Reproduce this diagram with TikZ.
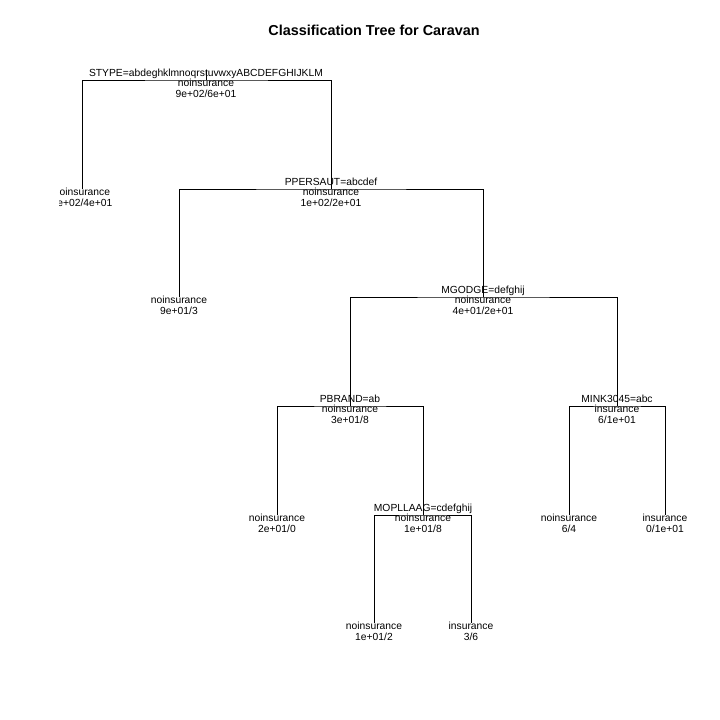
\documentclass[tikz,border=0pt]{standalone}
\usepackage{fontspec}
\setmainfont{Liberation Sans}
\usetikzlibrary{positioning}
\begin{document}
\begin{tikzpicture}[x=1pt,y=-1pt,line width=0.75pt,
    splitlab/.style={anchor=base,inner sep=0pt,yshift=3.3pt,font=\fontsize{10.3}{11}\selectfont},
    yvallab/.style={anchor=base,inner sep=0pt,yshift=-17.5pt,align=center,font=\fontsize{10.3}{10.8}\selectfont}]
  \useasboundingbox (0,0) rectangle (720,720);
  \node[anchor=base,inner sep=0pt,font=\bfseries\fontsize{14.4}{16}\selectfont] (title) at (374,35.5) {Classification Tree for Caravan};

  % tree coordinates
  \coordinate (top) at (206,70);
  \coordinate (n1) at (206,80);
  \coordinate (n2) at (82,189);
  \coordinate (n3) at (331,189);
  \coordinate (n6) at (179,297);
  \coordinate (n7) at (483,297);
  \coordinate (n14) at (350,406);
  \coordinate (n15) at (617,406);
  \coordinate (n28) at (277,515);
  \coordinate (n29) at (423,515);
  \coordinate (n30) at (569,515);
  \coordinate (n31) at (665,515);
  \coordinate (n58) at (374,623);
  \coordinate (n59) at (471,623);

  % branches
  \draw (top) -- (n1);
  \draw (n2) |- (n1) -| (n3);
  \draw (n6) |- (n3) -| (n7);
  \draw (n14) |- (n7) -| (n15);
  \draw (n28) |- (n14) -| (n29);
  \draw (n30) |- (n15) -| (n31);
  \draw (n58) |- (n29) -| (n59);

  % split labels
  \node[splitlab] (s1) at (n1) {STYPE=abdeghklmnoqrstuvwxyABCDEFGHIJKLM};
  \node[splitlab] (s3) at (n3) {PPERSAUT=abcdef};
  \node[splitlab] (s7) at (n7) {MGODGE=defghij};
  \node[splitlab] (s14) at (n14) {PBRAND=ab};
  \node[splitlab] (s15) at (n15) {MINK3045=abc};
  \node[splitlab] (s29) at (n29) {MOPLLAAG=cdefghij};

  % class and counts
  \node[yvallab] (v1) at (n1) {noinsurance\\9e+02/6e+01};
  \begin{scope}
    \clip (59,0) rectangle (720,720);
    \node[yvallab] (v2) at (n2) {noinsurance\\9e+02/4e+01};
  \end{scope}
  \node[yvallab] (v3) at (n3) {noinsurance\\1e+02/2e+01};
  \node[yvallab] (v6) at (n6) {noinsurance\\9e+01/3};
  \node[yvallab] (v7) at (n7) {noinsurance\\4e+01/2e+01};
  \node[yvallab] (v14) at (n14) {noinsurance\\3e+01/8};
  \node[yvallab] (v15) at (n15) {insurance\\6/1e+01};
  \node[yvallab] (v28) at (n28) {noinsurance\\2e+01/0};
  \node[yvallab] (v29) at (n29) {noinsurance\\1e+01/8};
  \node[yvallab] (v30) at (n30) {noinsurance\\6/4};
  \node[yvallab] (v31) at (n31) {insurance\\0/1e+01};
  \node[yvallab] (v58) at (n58) {noinsurance\\1e+01/2};
  \node[yvallab] (v59) at (n59) {insurance\\3/6};
\end{tikzpicture}
\end{document}
